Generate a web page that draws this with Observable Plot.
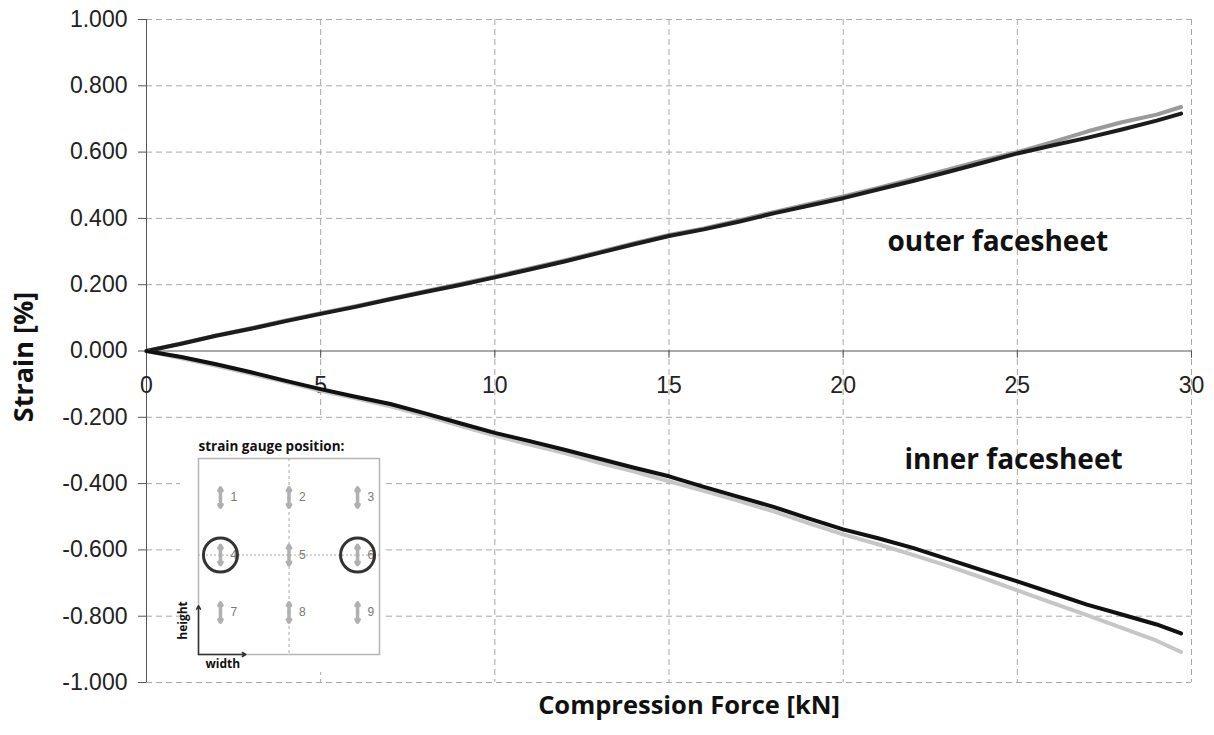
<!DOCTYPE html>
<html>
<head>
<meta charset="utf-8">
<script src="https://cdn.jsdelivr.net/npm/d3@7"></script>
<script src="https://cdn.jsdelivr.net/npm/@observablehq/plot@0.6"></script>
<style>
  html, body { margin: 0; padding: 0; background: white; }
  #wrap { position: relative; width: 1214px; height: 735px; }
  #insetbg { position: absolute; left: 180px; top: 420px; width: 203px; height: 252px; background: white; }
  #inset { position: absolute; left: 140px; top: 420px; }
</style>
</head>
<body>
<div id="wrap"><div id="main"></div><div id="insetbg"></div><div id="inset"></div></div>
<script>
// ---- data ----
const force = [0,1,2,3,4,5,6,7,8,9,10,11,12,13,14,15,16,17,18,19,20,21,22,23,24,25,26,27,28,29,29.7];
const outerBlack = [0.000,0.022,0.046,0.067,0.090,0.112,0.133,0.156,0.178,0.199,0.222,0.246,0.270,0.296,0.322,0.347,0.367,0.390,0.415,0.438,0.461,0.487,0.513,0.540,0.568,0.596,0.620,0.643,0.668,0.695,0.716];
const outerGrey  = [0.000,0.023,0.047,0.069,0.092,0.114,0.135,0.158,0.180,0.202,0.225,0.249,0.273,0.299,0.325,0.350,0.370,0.394,0.419,0.443,0.466,0.492,0.519,0.547,0.575,0.600,0.630,0.662,0.690,0.713,0.736];
const innerBlack = [0.000,-0.018,-0.040,-0.064,-0.090,-0.115,-0.138,-0.160,-0.188,-0.218,-0.247,-0.272,-0.298,-0.325,-0.352,-0.378,-0.410,-0.440,-0.470,-0.505,-0.538,-0.565,-0.594,-0.628,-0.662,-0.695,-0.730,-0.765,-0.795,-0.825,-0.852];
const innerGrey  = [0.000,-0.022,-0.045,-0.069,-0.094,-0.120,-0.143,-0.167,-0.195,-0.226,-0.255,-0.282,-0.308,-0.337,-0.364,-0.393,-0.422,-0.452,-0.484,-0.519,-0.553,-0.583,-0.615,-0.648,-0.684,-0.722,-0.760,-0.797,-0.835,-0.874,-0.908];
const xTicks = [0,5,10,15,20,25,30];
const yTicks = [-1,-0.8,-0.6,-0.4,-0.2,0,0.2,0.4,0.6,0.8,1];
const annotations = [
  {text: "outer facesheet", x: 21.27, y: 0.33},
  {text: "inner facesheet", x: 21.76, y: -0.33}
];
// inset: strain gauge layout (column, row)
const gaugeIds  = [1,2,3,4,5,6,7,8,9];
const gaugeCols = [0,1,2,0,1,2,0,1,2];
const gaugeRows = [0,0,0,1,1,1,2,2,2];
const circled = [4,6];

const series = [
  {name: "outer grey",  values: outerGrey,  color: "#9a9a9a"},
  {name: "outer black", values: outerBlack, color: "#1c1c1c"},
  {name: "inner grey",  values: innerGrey,  color: "#c6c6c6"},
  {name: "inner black", values: innerBlack, color: "#111111"}
];
const rows = s => force.map((f, i) => ({force: f, strain: s.values[i]}));

const tickFont = "Liberation Sans, Arial, sans-serif";
const boldFont = "Open Sans, sans-serif";

const main = Plot.plot({
  width: 1214, height: 735,
  marginLeft: 146, marginRight: 23, marginTop: 19, marginBottom: 53,
  x: {domain: [0, 30], axis: null},
  y: {domain: [-1, 1]},
  style: {fontFamily: tickFont, fontSize: "23px", background: "white", color: "#222"},
  marks: [
    Plot.gridX(xTicks.filter(d => d !== 0), {stroke: "#a8a8a8", strokeOpacity: 1, strokeDasharray: "6,4"}),
    Plot.gridY(yTicks.filter(d => d !== 0), {stroke: "#a8a8a8", strokeOpacity: 1, strokeDasharray: "6,4"}),
    Plot.ruleX([0], {stroke: "#555"}),
    Plot.ruleY([0], {stroke: "#555"}),
    Plot.axisY(yTicks, {tickFormat: d => d.toFixed(3), tickSize: 8, tickPadding: 11, label: null, fontSize: 23, stroke: "#555", fill: "#222"}),
    Plot.ruleX(xTicks, {x: d => d, y1: () => 0, y2: () => -0.022, stroke: "#555"}),
    Plot.text(xTicks, {x: d => d, y: () => 0, dy: 35, text: d => String(d), fontSize: 23, fill: "#222"}),
    ...series.map(s => Plot.line(rows(s), {x: "force", y: "strain", stroke: s.color, strokeWidth: 4, strokeLinejoin: "round", strokeLinecap: "round"})),
    Plot.text(annotations, {x: "x", y: "y", text: "text", textAnchor: "start", fontSize: 28, fontWeight: "bold", fontFamily: boldFont, fill: "#111"}),
    Plot.text(["Compression Force [kN]"], {frameAnchor: "bottom", dx: 20, dy: 31, text: d => d, fontSize: 25.5, fontWeight: "bold", fontFamily: boldFont, fill: "#111"}),
    Plot.text(["Strain [%]"], {frameAnchor: "left", textAnchor: "middle", dx: -122, dy: 6, rotate: -90, text: d => d, fontSize: 27, fontWeight: "bold", fontFamily: boldFont, fill: "#111"})
  ]
});
document.getElementById("main").append(main);

// ---- inset ----
const gauges = gaugeIds.map((id, i) => ({id, col: gaugeCols[i], row: gaugeRows[i]}));
const xd = [-0.32, 2.32], yd = [2.73, -0.68];
const inset = Plot.plot({
  width: 247, height: 252,
  marginLeft: 58, marginRight: 8, marginTop: 38, marginBottom: 18,
  x: {domain: xd, axis: null},
  y: {domain: yd, axis: null},
  style: {background: "transparent", fontFamily: tickFont, overflow: "visible"},
  marks: [
    Plot.frame({stroke: "#b5b5b5", strokeWidth: 1.5}),
    Plot.ruleX([1], {stroke: "#aaa", strokeDasharray: "3,3"}),
    Plot.ruleY([1], {stroke: "#aaa", strokeDasharray: "2,2"}),
    Plot.arrow(gauges, {x1: "col", x2: "col", y1: "row", y2: d => d.row - 0.17, stroke: "#b0b0b0", strokeWidth: 3.5, headLength: 6}),
    Plot.arrow(gauges, {x1: "col", x2: "col", y1: "row", y2: d => d.row + 0.17, stroke: "#b0b0b0", strokeWidth: 3.5, headLength: 6}),
    Plot.text(gauges, {x: "col", y: "row", text: d => String(d.id), dx: 10, textAnchor: "start", fontSize: 12, fill: "#777"}),
    Plot.dot(gauges.filter(d => circled.includes(d.id)), {x: "col", y: "row", r: 17, stroke: "#333", strokeWidth: 3}),
    Plot.arrow([{}], {x1: () => xd[0], y1: () => yd[0], x2: () => xd[0], y2: () => yd[0] - 0.85, stroke: "#333", strokeWidth: 1.5, headLength: 4}),
    Plot.arrow([{}], {x1: () => xd[0], y1: () => yd[0], x2: () => xd[0] + 0.69, y2: () => yd[0], stroke: "#333", strokeWidth: 1.5, headLength: 4}),
    Plot.text(["strain gauge position:"], {frameAnchor: "top-left", dy: -17, textAnchor: "start", text: d => d, fontSize: 13.5, fontWeight: "bold", fontFamily: boldFont, fill: "#111"}),
    Plot.text(["height"], {frameAnchor: "bottom-left", textAnchor: "middle", dx: -12, dy: -34, rotate: -90, text: d => d, fontSize: 12, fontWeight: "bold", fontFamily: boldFont, fill: "#111"}),
    Plot.text(["width"], {frameAnchor: "bottom-left", dx: 7, dy: 13, textAnchor: "start", text: d => d, fontSize: 12, fontWeight: "bold", fontFamily: boldFont, fill: "#111"})
  ]
});
document.getElementById("inset").append(inset);
</script>
</body>
</html>
